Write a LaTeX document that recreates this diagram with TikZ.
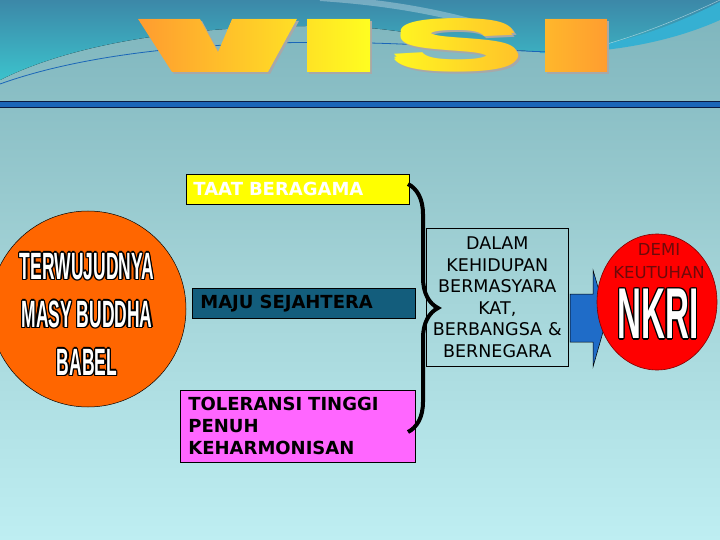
\documentclass[tikz,border=0pt]{standalone}
\usepackage{graphicx}
\usepackage{fontspec}
\setmainfont{DejaVu Sans}
\newfontfamily\condfont{Liberation Sans}
\usetikzlibrary{shapes.geometric,decorations.pathreplacing,fadings}

\definecolor{bgtop}{HTML}{7DB4BC}
\definecolor{bgmid}{HTML}{A2D2D6}
\definecolor{bgbottom}{HTML}{BEEEF2}
\definecolor{swooshtop}{HTML}{3C88A8}
\definecolor{swooshlow}{HTML}{3CC2CC}
\definecolor{ribbon}{HTML}{35B0D2}
\definecolor{barblue}{HTML}{1A66B8}
\definecolor{bardark}{HTML}{0A1A40}
\definecolor{visiorange}{HTML}{FF9A30}
\definecolor{visiyellow}{HTML}{FFFF20}
\definecolor{visishade}{HTML}{A8A8A8}
\definecolor{taatyellow}{HTML}{FFFF00}
\definecolor{majuteal}{HTML}{135D7C}
\definecolor{tolmagenta}{HTML}{FF66FF}
\definecolor{masyorange}{HTML}{FF6600}
\definecolor{arrowblue}{HTML}{1F6CC8}
\definecolor{nkrired}{HTML}{FF0000}
\definecolor{demitext}{HTML}{6E0A0A}

\newcommand{\strokecopy}[3]{\rlap{\kern#1\raise#2\hbox{\color{black}#3}}}
\newcommand{\hollow}[1]{%
	\strokecopy{-3pt}{0pt}{#1}\strokecopy{3pt}{0pt}{#1}%
	\strokecopy{0pt}{-1.4pt}{#1}\strokecopy{0pt}{1.4pt}{#1}%
	\strokecopy{-2.2pt}{-1pt}{#1}\strokecopy{2.2pt}{1pt}{#1}%
	\strokecopy{-2.2pt}{1pt}{#1}\strokecopy{2.2pt}{-1pt}{#1}%
	\textcolor{white}{#1}}
\newcommand{\narrow}[1]{\scalebox{0.46}[1]{\hollow{#1}}}
% a heavy, wide S for the title
\newcommand{\wideS}{\resizebox{136pt}{48pt}{\condfont\bfseries S}}
\newcommand{\heavyS}{\rlap{\raise2.5pt\hbox{\wideS}}\rlap{\raise-2.5pt\hbox{\wideS}}\rlap{\kern1.5pt\wideS}\wideS}

% letters of the title, centred on the origin
\begin{tikzfadingfrompicture}[name=visiword,x=1pt,y=-1pt]
	\fill[transparent] (-240,-30) rectangle (240,30);
	\fill[transparent!0] (-236,-27) -- (-174,-27) -- (-156,6) -- (-142,-27) -- (-77,-27) -- (-106,26) -- (-202,26) -- cycle;
	\fill[transparent!0] (-67,-27) rectangle (-4,26);
	\node[inner sep=0, text=transparent!0] (visis) at (83,-0.5) {\heavyS};
	\fill[transparent!0] (171,-27) rectangle (233,26);
\end{tikzfadingfrompicture}

\begin{document}
\begin{tikzpicture}[x=1pt,y=-1pt,
	pillar/.style={draw=black, line width=0.8pt, minimum height=30, inner xsep=0pt, align=left, font=\bfseries\fontsize{18}{22}\selectfont},
	hollowtext/.style={inner sep=0, font=\condfont\bfseries},
	brace/.style={line width=4pt, decorate, decoration={brace, amplitude=30pt}}]

	\useasboundingbox (0,0) rectangle (720,540);

	% background
	\fill[top color=bgtop, bottom color=bgbottom, middle color=bgmid] (0,0) rectangle (720,540);
	\fill[top color=swooshtop, bottom color=swooshlow] (0,0) -- (720,0) -- (720,12) .. controls (680,30) and (620,50) .. (555,52) .. controls (480,52) and (420,27) .. (330,26) .. controls (200,25) and (80,40) .. (0,80) -- cycle;
	\fill[ribbon] (540,51) .. controls (620,50) and (680,22) .. (720,2) -- (720,20) .. controls (680,38) and (620,54) .. (540,53) -- cycle;
	\draw[white, opacity=.3, line width=6pt] (320,-2) .. controls (380,2) and (430,10) .. (480,24);
	\draw[barblue, line width=.8pt] (0,84) .. controls (100,48) and (250,38) .. (400,44) .. controls (470,47) and (520,52) .. (560,52);
	\draw[white, opacity=.5, line width=.5pt] (600,46) .. controls (650,32) and (690,14) .. (720,0);

	% title
	\begin{scope}[shift={(2,2)}]
		\fill[visishade] (138,19) -- (200,19) -- (218,52) -- (232,19) -- (297,19) -- (268,72) -- (172,72) -- cycle;
		\fill[visishade] (307,19) rectangle (370,72);
		\node[inner sep=0, text=visishade] (visishadow) at (457,45.5) {\heavyS};
		\fill[visishade] (545,19) rectangle (607,72);
	\end{scope}
	\shade[path fading=visiword, fit fading=false, fading transform={shift={(374,46)}}, left color=visiorange, right color=visiorange, middle color=visiyellow] (134,16) rectangle (614,76);

	\draw[fill=barblue, draw=bardark, line width=1pt] (-1,102) rectangle (721,108);

	% left circle
	\node[circle, draw=black, line width=.5pt, fill=masyorange, minimum size=196, inner sep=0] (masy) at (88,309) {};
	\node[hollowtext, align=center, font=\condfont\bfseries\fontsize{38}{48}\selectfont] (masytext) at (87,314) {\narrow{TERWUJUDNYA}\\\narrow{MASY BUDDHA}\\\narrow{BABEL}};

	% three boxes
	\node[pillar, fill=taatyellow, text=white, text width=209pt, inner xsep=7pt, anchor=north west] (taat) at (186,174) {TAAT BERAGAMA};
	\node[pillar, fill=majuteal, text=black, text width=207pt, inner xsep=8pt, anchor=north west] (maju) at (192,288) {MAJU SEJAHTERA};
	\node[pillar, fill=tolmagenta, text=black, text width=219pt, inner xsep=8pt, minimum height=72, anchor=north west] (toleransi) at (180,390) {TOLERANSI TINGGI\\PENUH\\KEHARMONISAN};

	\coordinate (bracetop) at (408,184);
	\coordinate (bracebot) at (408,432);
	\draw[brace] (bracetop) -- (bracebot);

	\node[draw=black, line width=.6pt, minimum width=142, minimum height=138, text width=136pt, align=center, inner sep=0, font=\fontsize{17.5}{21.5}\selectfont, anchor=north west] (dalam) at (426,228) {DALAM\\KEHIDUPAN\\BERMASYARA\\KAT,\\BERBANGSA \&\\BERNEGARA};

	% arrow into the red circle
	\coordinate (arrowtail) at (570,318);
	\draw[fill=arrowblue, draw=black, line width=.5pt] (arrowtail) ++(0,-24) -- ++(23,0) -- ++(0,-24) -- ++(14,48) -- ++(-14,49) -- ++(0,-25) -- ++(-23,0) -- cycle;

	\node[ellipse, draw=red!50!black, line width=.6pt, fill=nkrired, minimum width=120, minimum height=136] (keutuhan) at (657,302) {};
	\node[align=center, text=demitext, inner sep=0, font=\fontsize{16.5}{23}\selectfont] (demi) at (659,261) {DEMI\\KEUTUHAN};
	\node[hollowtext, font=\condfont\bfseries\fontsize{72}{80}\selectfont] (nkri) at (658,314) {\narrow{NKRI}};

\end{tikzpicture}
\end{document}
